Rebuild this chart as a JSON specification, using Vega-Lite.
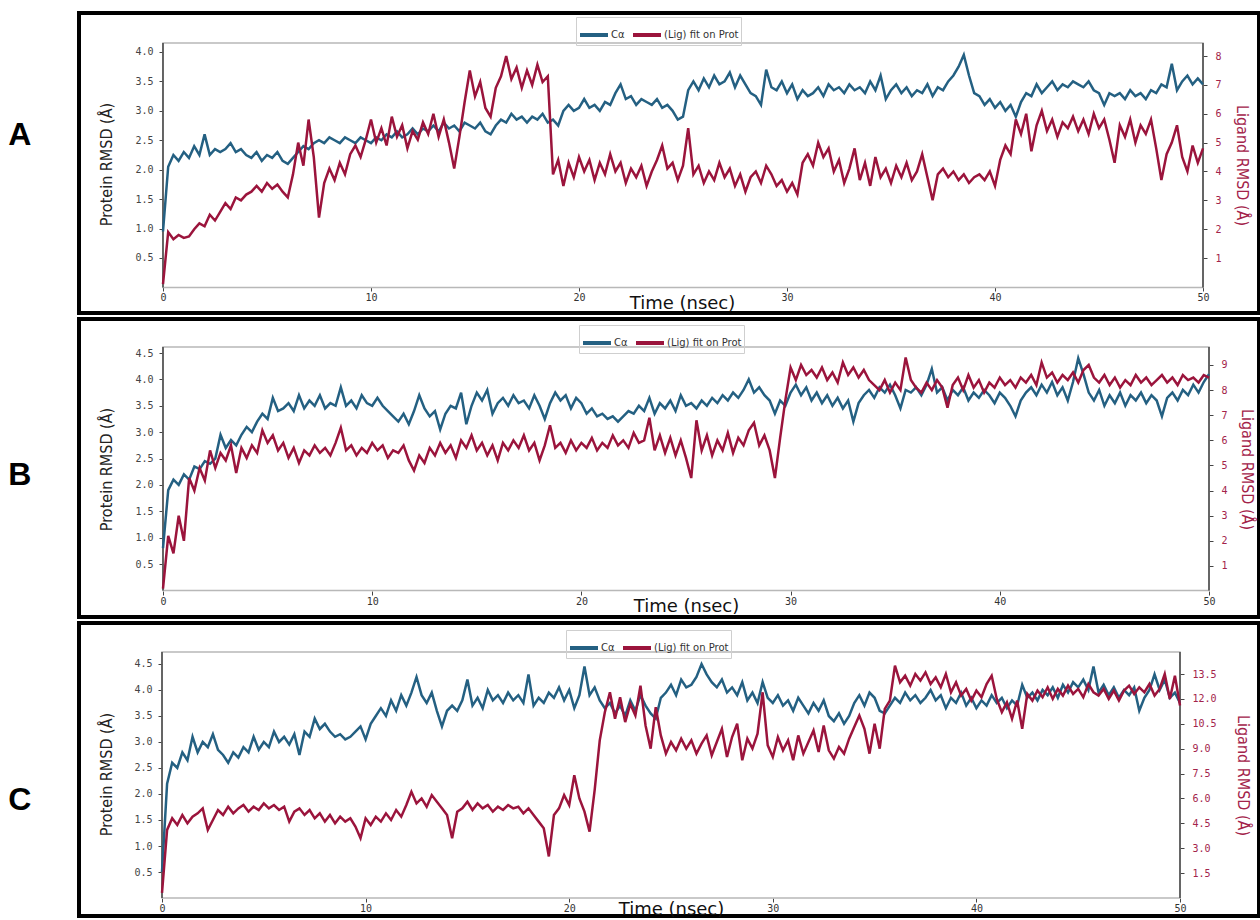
{
"$schema":"https://vega.github.io/schema/vega-lite/v6.json",
"padding":{"left":6,"top":11,"right":0,"bottom":0},
"autosize":{"type":"pad"},
"datasets":{"rmsd":[
{"t":0,"pA":0.95,"lA":0.1,"pB":0.8,"lB":0.1,"pC":0.5,"lC":0.3},
{"t":0.25,"pA":2.05,"lA":1.9,"pB":1.9,"lB":2.2,"pC":2.2,"lC":4.1},
{"t":0.5,"pA":2.25,"lA":1.65,"pB":2.1,"lB":1.5,"pC":2.6,"lC":4.8},
{"t":0.75,"pA":2.15,"lA":1.8,"pB":2.0,"lB":3.0,"pC":2.5,"lC":4.4},
{"t":1,"pA":2.3,"lA":1.7,"pB":2.2,"lB":2.0,"pC":2.8,"lC":5.0},
{"t":1.25,"pA":2.2,"lA":1.75,"pB":2.1,"lB":4.5,"pC":2.65,"lC":4.5},
{"t":1.5,"pA":2.4,"lA":2.0,"pB":2.35,"lB":4.0,"pC":3.1,"lC":4.9},
{"t":1.75,"pA":2.25,"lA":2.2,"pB":2.3,"lB":4.9,"pC":2.8,"lC":5.1},
{"t":2,"pA":2.6,"lA":2.1,"pB":2.45,"lB":4.4,"pC":3.0,"lC":5.4},
{"t":2.25,"pA":2.25,"lA":2.5,"pB":2.4,"lB":5.6,"pC":2.9,"lC":4.1},
{"t":2.5,"pA":2.35,"lA":2.3,"pB":2.5,"lB":4.9,"pC":3.15,"lC":4.7},
{"t":2.75,"pA":2.3,"lA":2.6,"pB":2.95,"lB":5.5,"pC":2.85,"lC":5.3},
{"t":3,"pA":2.35,"lA":2.9,"pB":2.7,"lB":5.2,"pC":2.75,"lC":5.0},
{"t":3.25,"pA":2.45,"lA":2.7,"pB":2.85,"lB":5.8,"pC":2.6,"lC":5.5},
{"t":3.5,"pA":2.3,"lA":3.1,"pB":2.75,"lB":4.7,"pC":2.8,"lC":5.1},
{"t":3.75,"pA":2.35,"lA":3.0,"pB":2.95,"lB":5.7,"pC":2.7,"lC":5.4},
{"t":4,"pA":2.25,"lA":3.2,"pB":3.1,"lB":5.3,"pC":2.9,"lC":5.6},
{"t":4.25,"pA":2.2,"lA":3.3,"pB":3.0,"lB":5.8,"pC":2.8,"lC":5.2},
{"t":4.5,"pA":2.3,"lA":3.5,"pB":3.2,"lB":5.5,"pC":3.1,"lC":5.5},
{"t":4.75,"pA":2.15,"lA":3.3,"pB":3.35,"lB":6.4,"pC":2.85,"lC":5.3},
{"t":5,"pA":2.25,"lA":3.6,"pB":3.25,"lB":5.9,"pC":3.0,"lC":5.7},
{"t":5.25,"pA":2.2,"lA":3.4,"pB":3.65,"lB":6.2,"pC":2.9,"lC":5.4},
{"t":5.5,"pA":2.3,"lA":3.55,"pB":3.4,"lB":5.6,"pC":3.2,"lC":5.6},
{"t":5.75,"pA":2.15,"lA":3.3,"pB":3.45,"lB":5.9,"pC":3.0,"lC":5.3},
{"t":6,"pA":2.1,"lA":3.1,"pB":3.55,"lB":5.3,"pC":3.1,"lC":5.5},
{"t":6.25,"pA":2.2,"lA":3.9,"pB":3.4,"lB":5.7,"pC":2.95,"lC":4.6},
{"t":6.5,"pA":2.3,"lA":5.0,"pB":3.7,"lB":5.1,"pC":3.15,"lC":5.2},
{"t":6.75,"pA":2.4,"lA":4.2,"pB":3.45,"lB":5.6,"pC":2.75,"lC":5.4},
{"t":7,"pA":2.35,"lA":5.8,"pB":3.6,"lB":5.4,"pC":3.2,"lC":5.0},
{"t":7.25,"pA":2.45,"lA":4.5,"pB":3.5,"lB":5.8,"pC":3.1,"lC":5.3},
{"t":7.5,"pA":2.5,"lA":2.4,"pB":3.7,"lB":5.5,"pC":3.45,"lC":4.8},
{"t":7.75,"pA":2.45,"lA":3.6,"pB":3.45,"lB":5.7,"pC":3.25,"lC":5.1},
{"t":8,"pA":2.55,"lA":4.1,"pB":3.55,"lB":5.4,"pC":3.35,"lC":4.6},
{"t":8.25,"pA":2.5,"lA":3.7,"pB":3.5,"lB":5.9,"pC":3.2,"lC":5.0},
{"t":8.5,"pA":2.45,"lA":4.3,"pB":3.85,"lB":6.5,"pC":3.1,"lC":4.5},
{"t":8.75,"pA":2.55,"lA":3.9,"pB":3.5,"lB":5.6,"pC":3.15,"lC":4.9},
{"t":9,"pA":2.5,"lA":4.6,"pB":3.6,"lB":5.8,"pC":3.05,"lC":4.6},
{"t":9.25,"pA":2.45,"lA":4.9,"pB":3.45,"lB":5.4,"pC":3.1,"lC":4.8},
{"t":9.5,"pA":2.55,"lA":4.5,"pB":3.7,"lB":5.7,"pC":3.2,"lC":4.3},
{"t":9.75,"pA":2.5,"lA":5.1,"pB":3.55,"lB":5.5,"pC":3.3,"lC":3.6},
{"t":10,"pA":2.45,"lA":5.8,"pB":3.5,"lB":5.9,"pC":3.05,"lC":4.8},
{"t":10.25,"pA":2.55,"lA":5.0,"pB":3.65,"lB":5.6,"pC":3.35,"lC":4.4},
{"t":10.5,"pA":2.5,"lA":5.5,"pB":3.5,"lB":5.8,"pC":3.5,"lC":4.9},
{"t":10.75,"pA":2.6,"lA":4.9,"pB":3.4,"lB":5.3,"pC":3.65,"lC":4.6},
{"t":11,"pA":2.55,"lA":5.9,"pB":3.3,"lB":5.6,"pC":3.5,"lC":5.1},
{"t":11.25,"pA":2.65,"lA":5.2,"pB":3.2,"lB":5.5,"pC":3.8,"lC":4.7},
{"t":11.5,"pA":2.55,"lA":5.6,"pB":3.35,"lB":5.8,"pC":3.6,"lC":5.3},
{"t":11.75,"pA":2.6,"lA":4.8,"pB":3.15,"lB":5.2,"pC":3.9,"lC":4.9},
{"t":12,"pA":2.7,"lA":5.4,"pB":3.4,"lB":4.8,"pC":3.7,"lC":5.6},
{"t":12.25,"pA":2.6,"lA":5.1,"pB":3.7,"lB":5.4,"pC":3.95,"lC":6.4},
{"t":12.5,"pA":2.7,"lA":5.7,"pB":3.45,"lB":5.1,"pC":4.25,"lC":5.7},
{"t":12.75,"pA":2.65,"lA":5.3,"pB":3.3,"lB":5.7,"pC":3.9,"lC":6.0},
{"t":13,"pA":2.75,"lA":6.0,"pB":3.4,"lB":5.4,"pC":3.75,"lC":5.5},
{"t":13.25,"pA":2.65,"lA":5.2,"pB":3.05,"lB":5.9,"pC":3.95,"lC":6.2},
{"t":13.5,"pA":2.8,"lA":5.8,"pB":3.35,"lB":5.5,"pC":3.6,"lC":5.8},
{"t":13.75,"pA":2.7,"lA":5.0,"pB":3.5,"lB":5.8,"pC":3.3,"lC":5.4},
{"t":14,"pA":2.75,"lA":4.1,"pB":3.45,"lB":5.3,"pC":3.6,"lC":5.0},
{"t":14.25,"pA":2.65,"lA":5.2,"pB":3.75,"lB":6.0,"pC":3.7,"lC":3.6},
{"t":14.5,"pA":2.8,"lA":6.4,"pB":3.15,"lB":5.7,"pC":3.6,"lC":5.2},
{"t":14.75,"pA":2.75,"lA":7.5,"pB":3.5,"lB":6.2,"pC":3.8,"lC":5.4},
{"t":15,"pA":2.7,"lA":6.6,"pB":3.75,"lB":5.6,"pC":4.2,"lC":5.8},
{"t":15.25,"pA":2.8,"lA":7.1,"pB":3.6,"lB":5.9,"pC":3.7,"lC":5.3},
{"t":15.5,"pA":2.65,"lA":6.2,"pB":3.8,"lB":5.4,"pC":3.85,"lC":5.7},
{"t":15.75,"pA":2.6,"lA":5.9,"pB":3.35,"lB":5.8,"pC":3.65,"lC":5.4},
{"t":16,"pA":2.75,"lA":6.9,"pB":3.55,"lB":5.2,"pC":4.0,"lC":5.6},
{"t":16.25,"pA":2.85,"lA":7.3,"pB":3.65,"lB":5.9,"pC":3.8,"lC":5.2},
{"t":16.5,"pA":2.8,"lA":8.0,"pB":3.5,"lB":5.6,"pC":3.9,"lC":5.5},
{"t":16.75,"pA":2.95,"lA":7.2,"pB":3.7,"lB":6.0,"pC":3.75,"lC":5.3},
{"t":17,"pA":2.85,"lA":7.6,"pB":3.55,"lB":5.7,"pC":3.95,"lC":5.6},
{"t":17.25,"pA":2.9,"lA":6.9,"pB":3.6,"lB":6.2,"pC":3.8,"lC":5.4},
{"t":17.5,"pA":2.8,"lA":7.5,"pB":3.45,"lB":5.6,"pC":3.9,"lC":5.5},
{"t":17.75,"pA":2.9,"lA":7.0,"pB":3.7,"lB":5.9,"pC":3.75,"lC":5.1},
{"t":18,"pA":2.85,"lA":7.7,"pB":3.5,"lB":5.2,"pC":4.3,"lC":5.4},
{"t":18.25,"pA":2.95,"lA":7.1,"pB":3.25,"lB":5.8,"pC":3.7,"lC":5.0},
{"t":18.5,"pA":2.8,"lA":7.3,"pB":3.55,"lB":6.6,"pC":3.85,"lC":4.6},
{"t":18.75,"pA":2.85,"lA":3.9,"pB":3.75,"lB":5.7,"pC":3.75,"lC":4.2},
{"t":19,"pA":2.75,"lA":4.4,"pB":3.6,"lB":5.9,"pC":3.95,"lC":2.5},
{"t":19.25,"pA":3.0,"lA":3.5,"pB":3.7,"lB":5.5,"pC":3.85,"lC":5.0},
{"t":19.5,"pA":3.1,"lA":4.3,"pB":3.45,"lB":6.0,"pC":4.05,"lC":5.4},
{"t":19.75,"pA":3.0,"lA":3.8,"pB":3.65,"lB":5.6,"pC":3.8,"lC":6.2},
{"t":20,"pA":3.05,"lA":4.5,"pB":3.55,"lB":5.9,"pC":4.0,"lC":5.6},
{"t":20.25,"pA":3.2,"lA":4.0,"pB":3.35,"lB":5.7,"pC":3.65,"lC":7.4},
{"t":20.5,"pA":3.05,"lA":4.4,"pB":3.45,"lB":6.1,"pC":3.9,"lC":6.0},
{"t":20.75,"pA":3.1,"lA":3.7,"pB":3.3,"lB":5.6,"pC":4.45,"lC":5.2},
{"t":21,"pA":3.0,"lA":4.3,"pB":3.35,"lB":5.9,"pC":3.9,"lC":4.0},
{"t":21.25,"pA":3.15,"lA":3.9,"pB":3.25,"lB":5.7,"pC":4.05,"lC":6.5},
{"t":21.5,"pA":3.1,"lA":4.6,"pB":3.3,"lB":6.2,"pC":3.8,"lC":9.5},
{"t":21.75,"pA":3.3,"lA":4.0,"pB":3.2,"lB":5.8,"pC":3.65,"lC":11.2},
{"t":22,"pA":3.45,"lA":4.3,"pB":3.3,"lB":6.0,"pC":3.75,"lC":12.4},
{"t":22.25,"pA":3.2,"lA":3.6,"pB":3.4,"lB":5.7,"pC":3.55,"lC":10.8},
{"t":22.5,"pA":3.25,"lA":4.1,"pB":3.35,"lB":6.3,"pC":3.7,"lC":12.1},
{"t":22.75,"pA":3.1,"lA":3.8,"pB":3.5,"lB":5.9,"pC":3.5,"lC":10.6},
{"t":23,"pA":3.2,"lA":4.2,"pB":3.4,"lB":6.0,"pC":3.8,"lC":11.7},
{"t":23.25,"pA":3.15,"lA":3.5,"pB":3.65,"lB":6.9,"pC":3.6,"lC":11.0},
{"t":23.5,"pA":3.1,"lA":4.0,"pB":3.35,"lB":5.6,"pC":3.9,"lC":12.8},
{"t":23.75,"pA":3.2,"lA":4.4,"pB":3.55,"lB":6.2,"pC":3.7,"lC":10.4},
{"t":24,"pA":3.05,"lA":4.9,"pB":3.45,"lB":5.5,"pC":3.55,"lC":9.0},
{"t":24.25,"pA":3.1,"lA":4.1,"pB":3.6,"lB":6.1,"pC":3.45,"lC":11.5},
{"t":24.5,"pA":3.0,"lA":4.3,"pB":3.4,"lB":5.4,"pC":3.85,"lC":9.8},
{"t":24.75,"pA":2.85,"lA":3.7,"pB":3.7,"lB":6.0,"pC":3.95,"lC":8.7},
{"t":25,"pA":2.9,"lA":4.2,"pB":3.5,"lB":5.3,"pC":4.1,"lC":9.4},
{"t":25.25,"pA":3.35,"lA":5.5,"pB":3.55,"lB":4.5,"pC":3.9,"lC":8.9},
{"t":25.5,"pA":3.5,"lA":3.9,"pB":3.45,"lB":6.8,"pC":4.2,"lC":9.6},
{"t":25.75,"pA":3.35,"lA":4.2,"pB":3.6,"lB":5.6,"pC":4.05,"lC":9.0},
{"t":26,"pA":3.55,"lA":3.6,"pB":3.5,"lB":6.2,"pC":4.1,"lC":9.5},
{"t":26.25,"pA":3.4,"lA":4.0,"pB":3.65,"lB":5.4,"pC":4.25,"lC":8.7},
{"t":26.5,"pA":3.6,"lA":3.7,"pB":3.55,"lB":6.0,"pC":4.5,"lC":9.3},
{"t":26.75,"pA":3.45,"lA":4.3,"pB":3.7,"lB":5.6,"pC":4.3,"lC":9.8},
{"t":27,"pA":3.5,"lA":3.8,"pB":3.6,"lB":6.3,"pC":4.15,"lC":8.6},
{"t":27.25,"pA":3.65,"lA":4.1,"pB":3.75,"lB":5.5,"pC":4.05,"lC":9.4},
{"t":27.5,"pA":3.4,"lA":3.5,"pB":3.65,"lB":6.1,"pC":4.2,"lC":10.2},
{"t":27.75,"pA":3.6,"lA":3.9,"pB":3.8,"lB":5.8,"pC":3.95,"lC":8.5},
{"t":28,"pA":3.45,"lA":3.3,"pB":4.0,"lB":6.4,"pC":4.05,"lC":9.7},
{"t":28.25,"pA":3.3,"lA":3.8,"pB":3.75,"lB":6.7,"pC":3.9,"lC":10.5},
{"t":28.5,"pA":3.25,"lA":4.0,"pB":3.85,"lB":5.8,"pC":4.15,"lC":8.3},
{"t":28.75,"pA":3.1,"lA":3.6,"pB":3.7,"lB":6.2,"pC":3.8,"lC":9.6},
{"t":29,"pA":3.7,"lA":4.2,"pB":3.6,"lB":5.6,"pC":3.95,"lC":9.0},
{"t":29.25,"pA":3.4,"lA":3.9,"pB":3.35,"lB":4.5,"pC":3.75,"lC":9.9},
{"t":29.5,"pA":3.35,"lA":3.5,"pB":3.6,"lB":6.1,"pC":4.15,"lC":12.4},
{"t":29.75,"pA":3.5,"lA":3.7,"pB":3.5,"lB":7.6,"pC":3.85,"lC":9.2},
{"t":30,"pA":3.3,"lA":3.3,"pB":3.75,"lB":8.9,"pC":3.75,"lC":8.5},
{"t":30.25,"pA":3.45,"lA":3.6,"pB":3.9,"lB":8.4,"pC":3.9,"lC":9.7},
{"t":30.5,"pA":3.2,"lA":3.2,"pB":3.7,"lB":9.0,"pC":3.7,"lC":8.9},
{"t":30.75,"pA":3.35,"lA":4.3,"pB":3.85,"lB":8.6,"pC":3.8,"lC":9.5},
{"t":31,"pA":3.25,"lA":4.6,"pB":3.6,"lB":8.8,"pC":3.6,"lC":8.3},
{"t":31.25,"pA":3.3,"lA":4.2,"pB":3.75,"lB":8.5,"pC":3.85,"lC":9.8},
{"t":31.5,"pA":3.4,"lA":5.0,"pB":3.55,"lB":8.9,"pC":3.7,"lC":8.7},
{"t":31.75,"pA":3.25,"lA":4.5,"pB":3.7,"lB":8.4,"pC":3.55,"lC":9.4},
{"t":32,"pA":3.45,"lA":4.8,"pB":3.5,"lB":8.7,"pC":3.75,"lC":10.1},
{"t":32.25,"pA":3.35,"lA":4.0,"pB":3.65,"lB":8.3,"pC":3.6,"lC":8.8},
{"t":32.5,"pA":3.4,"lA":4.4,"pB":3.45,"lB":9.1,"pC":3.8,"lC":10.4},
{"t":32.75,"pA":3.3,"lA":3.6,"pB":3.6,"lB":8.6,"pC":3.5,"lC":8.9},
{"t":33,"pA":3.45,"lA":4.1,"pB":3.2,"lB":8.9,"pC":3.4,"lC":8.4},
{"t":33.25,"pA":3.35,"lA":4.8,"pB":3.55,"lB":8.5,"pC":3.55,"lC":9.1},
{"t":33.5,"pA":3.4,"lA":3.7,"pB":3.7,"lB":8.8,"pC":3.35,"lC":8.7},
{"t":33.75,"pA":3.3,"lA":4.3,"pB":3.8,"lB":8.4,"pC":3.5,"lC":9.6},
{"t":34,"pA":3.5,"lA":3.5,"pB":3.65,"lB":8.2,"pC":3.75,"lC":10.3},
{"t":34.25,"pA":3.35,"lA":4.5,"pB":3.85,"lB":8.0,"pC":3.9,"lC":11.0},
{"t":34.5,"pA":3.6,"lA":3.8,"pB":3.75,"lB":8.4,"pC":3.7,"lC":10.2},
{"t":34.75,"pA":3.2,"lA":4.1,"pB":3.9,"lB":7.9,"pC":3.95,"lC":8.7},
{"t":35,"pA":3.35,"lA":3.6,"pB":3.7,"lB":8.3,"pC":3.85,"lC":10.5},
{"t":35.25,"pA":3.45,"lA":4.2,"pB":3.45,"lB":8.0,"pC":3.6,"lC":9.0},
{"t":35.5,"pA":3.3,"lA":3.8,"pB":3.8,"lB":9.3,"pC":3.55,"lC":11.4},
{"t":35.75,"pA":3.4,"lA":4.3,"pB":3.75,"lB":8.4,"pC":3.7,"lC":11.9},
{"t":36,"pA":3.25,"lA":3.7,"pB":3.85,"lB":8.1,"pC":3.85,"lC":14.0},
{"t":36.25,"pA":3.35,"lA":4.0,"pB":3.7,"lB":7.9,"pC":3.75,"lC":13.0},
{"t":36.5,"pA":3.3,"lA":4.6,"pB":3.9,"lB":8.3,"pC":3.95,"lC":13.4},
{"t":36.75,"pA":3.45,"lA":3.8,"pB":4.2,"lB":8.0,"pC":3.8,"lC":12.8},
{"t":37,"pA":3.25,"lA":3.0,"pB":3.75,"lB":8.4,"pC":3.9,"lC":13.5},
{"t":37.25,"pA":3.4,"lA":3.9,"pB":3.85,"lB":8.1,"pC":3.75,"lC":13.1},
{"t":37.5,"pA":3.35,"lA":4.1,"pB":3.6,"lB":7.3,"pC":3.85,"lC":13.6},
{"t":37.75,"pA":3.5,"lA":3.8,"pB":3.8,"lB":8.2,"pC":4.0,"lC":12.9},
{"t":38,"pA":3.6,"lA":4.0,"pB":3.7,"lB":8.5,"pC":3.8,"lC":13.3},
{"t":38.25,"pA":3.75,"lA":3.7,"pB":3.85,"lB":8.0,"pC":3.9,"lC":12.7},
{"t":38.5,"pA":3.95,"lA":3.9,"pB":3.6,"lB":8.6,"pC":3.65,"lC":13.5},
{"t":38.75,"pA":3.6,"lA":3.6,"pB":3.75,"lB":8.1,"pC":3.85,"lC":12.4},
{"t":39,"pA":3.3,"lA":3.8,"pB":3.65,"lB":8.4,"pC":3.75,"lC":13.0},
{"t":39.25,"pA":3.25,"lA":3.9,"pB":3.8,"lB":7.9,"pC":3.95,"lC":12.2},
{"t":39.5,"pA":3.1,"lA":3.7,"pB":3.7,"lB":8.3,"pC":3.7,"lC":12.6},
{"t":39.75,"pA":3.2,"lA":4.0,"pB":3.55,"lB":8.1,"pC":3.85,"lC":11.9},
{"t":40,"pA":3.05,"lA":3.5,"pB":3.75,"lB":8.5,"pC":3.65,"lC":12.5},
{"t":40.25,"pA":3.15,"lA":4.4,"pB":3.65,"lB":8.2,"pC":3.8,"lC":12.1},
{"t":40.5,"pA":3.0,"lA":4.9,"pB":3.5,"lB":8.4,"pC":3.7,"lC":12.9},
{"t":40.75,"pA":3.1,"lA":4.6,"pB":3.3,"lB":8.1,"pC":3.9,"lC":13.4},
{"t":41,"pA":2.9,"lA":5.8,"pB":3.6,"lB":8.5,"pC":3.75,"lC":12.0},
{"t":41.25,"pA":3.15,"lA":5.3,"pB":3.75,"lB":8.3,"pC":3.85,"lC":11.2},
{"t":41.5,"pA":3.3,"lA":6.0,"pB":3.85,"lB":8.6,"pC":3.65,"lC":11.8},
{"t":41.75,"pA":3.25,"lA":4.7,"pB":3.7,"lB":8.2,"pC":3.8,"lC":10.8},
{"t":42,"pA":3.45,"lA":5.6,"pB":3.9,"lB":9.1,"pC":3.7,"lC":11.9},
{"t":42.25,"pA":3.3,"lA":6.1,"pB":3.75,"lB":8.5,"pC":4.1,"lC":10.2},
{"t":42.5,"pA":3.4,"lA":5.4,"pB":3.95,"lB":8.7,"pC":3.85,"lC":12.3},
{"t":42.75,"pA":3.5,"lA":5.8,"pB":3.7,"lB":8.3,"pC":3.95,"lC":11.9},
{"t":43,"pA":3.35,"lA":5.2,"pB":3.85,"lB":8.6,"pC":3.8,"lC":12.5},
{"t":43.25,"pA":3.45,"lA":5.7,"pB":3.6,"lB":8.4,"pC":4.0,"lC":12.1},
{"t":43.5,"pA":3.4,"lA":5.5,"pB":3.95,"lB":8.7,"pC":3.9,"lC":12.7},
{"t":43.75,"pA":3.5,"lA":5.9,"pB":4.4,"lB":8.3,"pC":4.05,"lC":12.0},
{"t":44,"pA":3.45,"lA":5.4,"pB":4.1,"lB":8.8,"pC":3.85,"lC":12.6},
{"t":44.25,"pA":3.4,"lA":5.8,"pB":3.75,"lB":9.0,"pC":4.1,"lC":12.2},
{"t":44.5,"pA":3.5,"lA":5.3,"pB":3.6,"lB":8.5,"pC":3.95,"lC":12.8},
{"t":44.75,"pA":3.35,"lA":6.0,"pB":3.8,"lB":8.3,"pC":4.15,"lC":12.3},
{"t":45,"pA":3.3,"lA":5.5,"pB":3.5,"lB":8.6,"pC":4.05,"lC":12.6},
{"t":45.25,"pA":3.1,"lA":5.8,"pB":3.7,"lB":8.2,"pC":4.2,"lC":12.1},
{"t":45.5,"pA":3.3,"lA":5.1,"pB":3.55,"lB":8.5,"pC":4.0,"lC":12.9},
{"t":45.75,"pA":3.25,"lA":4.3,"pB":3.75,"lB":8.1,"pC":4.45,"lC":12.4},
{"t":46,"pA":3.3,"lA":5.6,"pB":3.5,"lB":8.4,"pC":3.95,"lC":12.2},
{"t":46.25,"pA":3.2,"lA":5.2,"pB":3.7,"lB":8.2,"pC":4.1,"lC":12.6},
{"t":46.5,"pA":3.35,"lA":5.8,"pB":3.6,"lB":8.6,"pC":3.9,"lC":12.0},
{"t":46.75,"pA":3.25,"lA":5.0,"pB":3.75,"lB":8.3,"pC":4.05,"lC":12.5},
{"t":47,"pA":3.3,"lA":5.6,"pB":3.55,"lB":8.5,"pC":3.85,"lC":11.9},
{"t":47.25,"pA":3.2,"lA":5.3,"pB":3.7,"lB":8.2,"pC":4.0,"lC":12.5},
{"t":47.5,"pA":3.35,"lA":5.8,"pB":3.6,"lB":8.4,"pC":3.9,"lC":12.8},
{"t":47.75,"pA":3.3,"lA":4.8,"pB":3.3,"lB":8.6,"pC":4.05,"lC":12.3},
{"t":48,"pA":3.45,"lA":3.7,"pB":3.65,"lB":8.3,"pC":3.6,"lC":12.7},
{"t":48.25,"pA":3.4,"lA":4.6,"pB":3.75,"lB":8.5,"pC":3.85,"lC":12.4},
{"t":48.5,"pA":3.8,"lA":5.0,"pB":3.6,"lB":8.2,"pC":4.0,"lC":12.9},
{"t":48.75,"pA":3.35,"lA":5.6,"pB":3.8,"lB":8.6,"pC":4.3,"lC":12.2},
{"t":49,"pA":3.5,"lA":4.5,"pB":3.7,"lB":8.4,"pC":4.0,"lC":12.6},
{"t":49.25,"pA":3.6,"lA":4.0,"pB":3.9,"lB":8.5,"pC":4.2,"lC":13.5},
{"t":49.5,"pA":3.45,"lA":4.9,"pB":3.75,"lB":8.3,"pC":3.85,"lC":12.0},
{"t":49.75,"pA":3.55,"lA":4.3,"pB":3.95,"lB":8.6,"pC":3.95,"lC":13.4},
{"t":50,"pA":3.45,"lA":4.8,"pB":4.1,"lB":8.5,"pC":3.75,"lC":11.6}
]},
"data":{"name":"rmsd"},
"spacing":6,
"bounds":"flush",
"resolve":{"scale":{"x":"independent","y":"independent","color":"independent"},"legend":{"color":"independent"}},
"vconcat":[
{
"width":1180,"height":300,
"view":{"stroke":"#000","strokeWidth":4},
"title":{"text":"A","orient":"left","angle":0,"align":"center","baseline":"middle","offset":36,"dy":-28,"fontSize":32,"font":"Liberation Sans","fontWeight":"bold","color":"#000"},
"resolve":{"scale":{"y":"independent"}},
"layer":[
{"layer":[
{"data":{"values":[{}]},"mark":{"type":"rect","fillOpacity":0,"stroke":"#b8b8b8","strokeWidth":1.5},
"encoding":{"x":{"datum":0,"type":"quantitative","scale":{"domain":[-4.038,52.692]}},"x2":{"datum":50},"y":{"datum":0,"type":"quantitative","scale":{"domain":[-0.435,4.662]}},"y2":{"datum":4.152}}},
{"data":{"values":[{}]},"mark":{"type":"rule","color":"#444","strokeWidth":1.5},
"encoding":{"x":{"datum":0,"type":"quantitative","scale":{"domain":[-4.038,52.692]}},"y":{"datum":0,"type":"quantitative","scale":{"domain":[-0.435,4.662]}},"y2":{"datum":4.152}}},
{"data":{"values":[{}]},"mark":{"type":"rule","color":"#444","strokeWidth":1.5},
"encoding":{"x":{"datum":50,"type":"quantitative","scale":{"domain":[-4.038,52.692]}},"y":{"datum":0,"type":"quantitative","scale":{"domain":[-0.435,4.662]}},"y2":{"datum":4.152}}},
{"mark":{"type":"line","strokeWidth":2.5},
"encoding":{
"x":{"field":"t","type":"quantitative","scale":{"domain":[-4.038,52.692]},"axis":{"orient":"bottom","offset":-26,"values":[0,10,20,30,40,50],"tickCount":30,"format":"d","labelOverlap":false,"tickSize":4,"labelPadding":1,"labelFont":"DejaVu Sans Mono","labelFontSize":10,"labelColor":"#333","title":"Time (nsec)","titleFont":"DejaVu Sans","titleFontSize":18,"titleFontWeight":"normal","titleColor":"#111","titleX":603,"titleY":21,"titleBaseline":"alphabetic","titleAlign":"center"}},
"y":{"field":"pA","type":"quantitative","scale":{"domain":[-0.435,4.662]},"axis":{"orient":"left","offset":-84,"values":[0.5,1,1.5,2,2.5,3,3.5,4],"tickCount":30,"format":".1f","labelOverlap":false,"tickSize":4,"labelPadding":6,"labelFont":"DejaVu Sans Mono","labelFontSize":10,"labelColor":"#444","title":"Protein RMSD (Å)","titleFont":"'Liberation Sans Narrow','DejaVu Sans Condensed',sans-serif","titleFontSize":16,"titleFontWeight":"normal","titleColor":"#222","titleX":-49,"titleY":151}},
"color":{"datum":"Cα","type":"nominal","scale":{"domain":["Cα","(Lig) fit on Prot"],"range":["#246082","#9b143c"]},"legend":{"title":null,"legendX":497,"legendY":4}}}}
]},
{"mark":{"type":"line","strokeWidth":2.5},
"encoding":{
"x":{"field":"t","type":"quantitative","scale":{"domain":[-4.038,52.692]}},
"y":{"field":"lA","type":"quantitative","scale":{"domain":[-0.904,9.491]},"axis":{"orient":"right","offset":-56,"values":[1,2,3,4,5,6,7,8],"tickCount":30,"format":"d","labelOverlap":false,"tickSize":4,"labelPadding":8,"labelFont":"DejaVu Sans Mono","labelFontSize":10,"labelColor":"#a3234a","title":"Ligand RMSD (Å)","titleFont":"'Liberation Sans Narrow','DejaVu Sans Condensed',sans-serif","titleFontSize":16,"titleFontWeight":"normal","titleColor":"#a3234a","titleX":30,"titleY":152}},
"color":{"datum":"(Lig) fit on Prot","type":"nominal","scale":{"domain":["Cα","(Lig) fit on Prot"],"range":["#246082","#9b143c"]}}}}
]
},
{
"width":1180,"height":298,
"view":{"stroke":"#000","strokeWidth":4},
"title":{"text":"B","orient":"left","angle":0,"align":"center","baseline":"middle","offset":36,"dy":7,"fontSize":32,"font":"Liberation Sans","fontWeight":"bold","color":"#000"},
"resolve":{"scale":{"y":"independent"}},
"layer":[
{"layer":[
{"data":{"values":[{}]},"mark":{"type":"rect","fillOpacity":0,"stroke":"#b8b8b8","strokeWidth":1.5},
"encoding":{"x":{"datum":0,"type":"quantitative","scale":{"domain":[-4.015,52.39]}},"x2":{"datum":50},"y":{"datum":0,"type":"quantitative","scale":{"domain":[-0.504,5.145]}},"y2":{"datum":4.614}}},
{"data":{"values":[{}]},"mark":{"type":"rule","color":"#444","strokeWidth":1.5},
"encoding":{"x":{"datum":0,"type":"quantitative","scale":{"domain":[-4.015,52.39]}},"y":{"datum":0,"type":"quantitative","scale":{"domain":[-0.504,5.145]}},"y2":{"datum":4.614}}},
{"data":{"values":[{}]},"mark":{"type":"rule","color":"#444","strokeWidth":1.5},
"encoding":{"x":{"datum":50,"type":"quantitative","scale":{"domain":[-4.015,52.39]}},"y":{"datum":0,"type":"quantitative","scale":{"domain":[-0.504,5.145]}},"y2":{"datum":4.614}}},
{"mark":{"type":"line","strokeWidth":2.5},
"encoding":{
"x":{"field":"t","type":"quantitative","scale":{"domain":[-4.015,52.39]},"axis":{"orient":"bottom","offset":-26,"values":[0,10,20,30,40,50],"tickCount":30,"format":"d","labelOverlap":false,"tickSize":4,"labelPadding":1,"labelFont":"DejaVu Sans Mono","labelFontSize":10,"labelColor":"#333","title":"Time (nsec)","titleFont":"DejaVu Sans","titleFontSize":18,"titleFontWeight":"normal","titleColor":"#111","titleX":607,"titleY":20,"titleBaseline":"alphabetic","titleAlign":"center"}},
"y":{"field":"pB","type":"quantitative","scale":{"domain":[-0.504,5.145]},"axis":{"orient":"left","offset":-84,"values":[0.5,1,1.5,2,2.5,3,3.5,4,4.5],"tickCount":30,"format":".1f","labelOverlap":false,"tickSize":4,"labelPadding":6,"labelFont":"DejaVu Sans Mono","labelFontSize":10,"labelColor":"#444","title":"Protein RMSD (Å)","titleFont":"'Liberation Sans Narrow','DejaVu Sans Condensed',sans-serif","titleFontSize":16,"titleFontWeight":"normal","titleColor":"#222","titleX":-49,"titleY":150}},
"color":{"datum":"Cα","type":"nominal","scale":{"domain":["Cα","(Lig) fit on Prot"],"range":["#246082","#9b143c"]},"legend":{"title":null,"legendX":500,"legendY":6}}}}
]},
{"mark":{"type":"line","strokeWidth":2.5},
"encoding":{
"x":{"field":"t","type":"quantitative","scale":{"domain":[-4.015,52.39]}},
"y":{"field":"lB","type":"quantitative","scale":{"domain":[-1.031,10.83]},"axis":{"orient":"right","offset":-50,"values":[1,2,3,4,5,6,7,8,9],"tickCount":30,"format":"d","labelOverlap":false,"tickSize":4,"labelPadding":8,"labelFont":"DejaVu Sans Mono","labelFontSize":10,"labelColor":"#a3234a","title":"Ligand RMSD (Å)","titleFont":"'Liberation Sans Narrow','DejaVu Sans Condensed',sans-serif","titleFontSize":16,"titleFontWeight":"normal","titleColor":"#a3234a","titleX":29,"titleY":150}},
"color":{"datum":"(Lig) fit on Prot","type":"nominal","scale":{"domain":["Cα","(Lig) fit on Prot"],"range":["#246082","#9b143c"]}}}}
]
},
{
"width":1180,"height":293,
"view":{"stroke":"#000","strokeWidth":4},
"title":{"text":"C","orient":"left","angle":0,"align":"center","baseline":"middle","offset":36,"dy":30,"fontSize":32,"font":"Liberation Sans","fontWeight":"bold","color":"#000"},
"resolve":{"scale":{"y":"independent"}},
"layer":[
{"layer":[
{"data":{"values":[{}]},"mark":{"type":"rect","fillOpacity":0,"stroke":"#b8b8b8","strokeWidth":1.5},
"encoding":{"x":{"datum":0,"type":"quantitative","scale":{"domain":[-4.077,53.88]}},"x2":{"datum":50},"y":{"datum":0,"type":"quantitative","scale":{"domain":[-0.346,5.288]}},"y2":{"datum":4.731}}},
{"data":{"values":[{}]},"mark":{"type":"rule","color":"#444","strokeWidth":1.5},
"encoding":{"x":{"datum":0,"type":"quantitative","scale":{"domain":[-4.077,53.88]}},"y":{"datum":0,"type":"quantitative","scale":{"domain":[-0.346,5.288]}},"y2":{"datum":4.731}}},
{"data":{"values":[{}]},"mark":{"type":"rule","color":"#444","strokeWidth":1.5},
"encoding":{"x":{"datum":50,"type":"quantitative","scale":{"domain":[-4.077,53.88]}},"y":{"datum":0,"type":"quantitative","scale":{"domain":[-0.346,5.288]}},"y2":{"datum":4.731}}},
{"mark":{"type":"line","strokeWidth":2.5},
"encoding":{
"x":{"field":"t","type":"quantitative","scale":{"domain":[-4.077,53.88]},"axis":{"orient":"bottom","offset":-18,"values":[0,10,20,30,40,50],"tickCount":30,"format":"d","labelOverlap":false,"tickSize":4,"labelPadding":1,"labelFont":"DejaVu Sans Mono","labelFontSize":10,"labelColor":"#333","title":"Time (nsec)","titleFont":"DejaVu Sans","titleFontSize":18,"titleFontWeight":"normal","titleColor":"#111","titleX":592,"titleY":16,"titleBaseline":"alphabetic","titleAlign":"center"}},
"y":{"field":"pC","type":"quantitative","scale":{"domain":[-0.346,5.288]},"axis":{"orient":"left","offset":-83,"values":[0.5,1,1.5,2,2.5,3,3.5,4,4.5],"tickCount":30,"format":".1f","labelOverlap":false,"tickSize":4,"labelPadding":6,"labelFont":"DejaVu Sans Mono","labelFontSize":10,"labelColor":"#444","title":"Protein RMSD (Å)","titleFont":"'Liberation Sans Narrow','DejaVu Sans Condensed',sans-serif","titleFontSize":16,"titleFontWeight":"normal","titleColor":"#222","titleX":-48,"titleY":151}},
"color":{"datum":"Cα","type":"nominal","scale":{"domain":["Cα","(Lig) fit on Prot"],"range":["#246082","#9b143c"]},"legend":{"title":null,"legendX":487,"legendY":7}}}}
]},
{"mark":{"type":"line","strokeWidth":2.5},
"encoding":{
"x":{"field":"t","type":"quantitative","scale":{"domain":[-4.077,53.88]}},
"y":{"field":"lC","type":"quantitative","scale":{"domain":[-1.091,16.577]},"axis":{"orient":"right","offset":-79,"values":[1.5,3,4.5,6,7.5,9,10.5,12,13.5],"tickCount":30,"format":".1f","labelOverlap":false,"tickSize":4,"labelPadding":8,"labelFont":"DejaVu Sans Mono","labelFontSize":10,"labelColor":"#a3234a","title":"Ligand RMSD (Å)","titleFont":"'Liberation Sans Narrow','DejaVu Sans Condensed',sans-serif","titleFontSize":16,"titleFontWeight":"normal","titleColor":"#a3234a","titleX":54,"titleY":152}},
"color":{"datum":"(Lig) fit on Prot","type":"nominal","scale":{"domain":["Cα","(Lig) fit on Prot"],"range":["#246082","#9b143c"]}}}}
]
}
],
"config":{
"background":"white",
"axis":{"grid":false,"domain":false,"labelOverlap":false,"labelFlush":false,"tickColor":"#444","tickWidth":1},
"legend":{"orient":"none","direction":"horizontal","symbolType":"stroke","symbolStrokeWidth":4,"symbolSize":784,"labelFont":"DejaVu Sans","labelFontSize":10,"labelColor":"#333","columnPadding":0,"labelOffset":1,"padding":2,"strokeColor":"#cfcfcf","symbolOffset":0}
}
}
